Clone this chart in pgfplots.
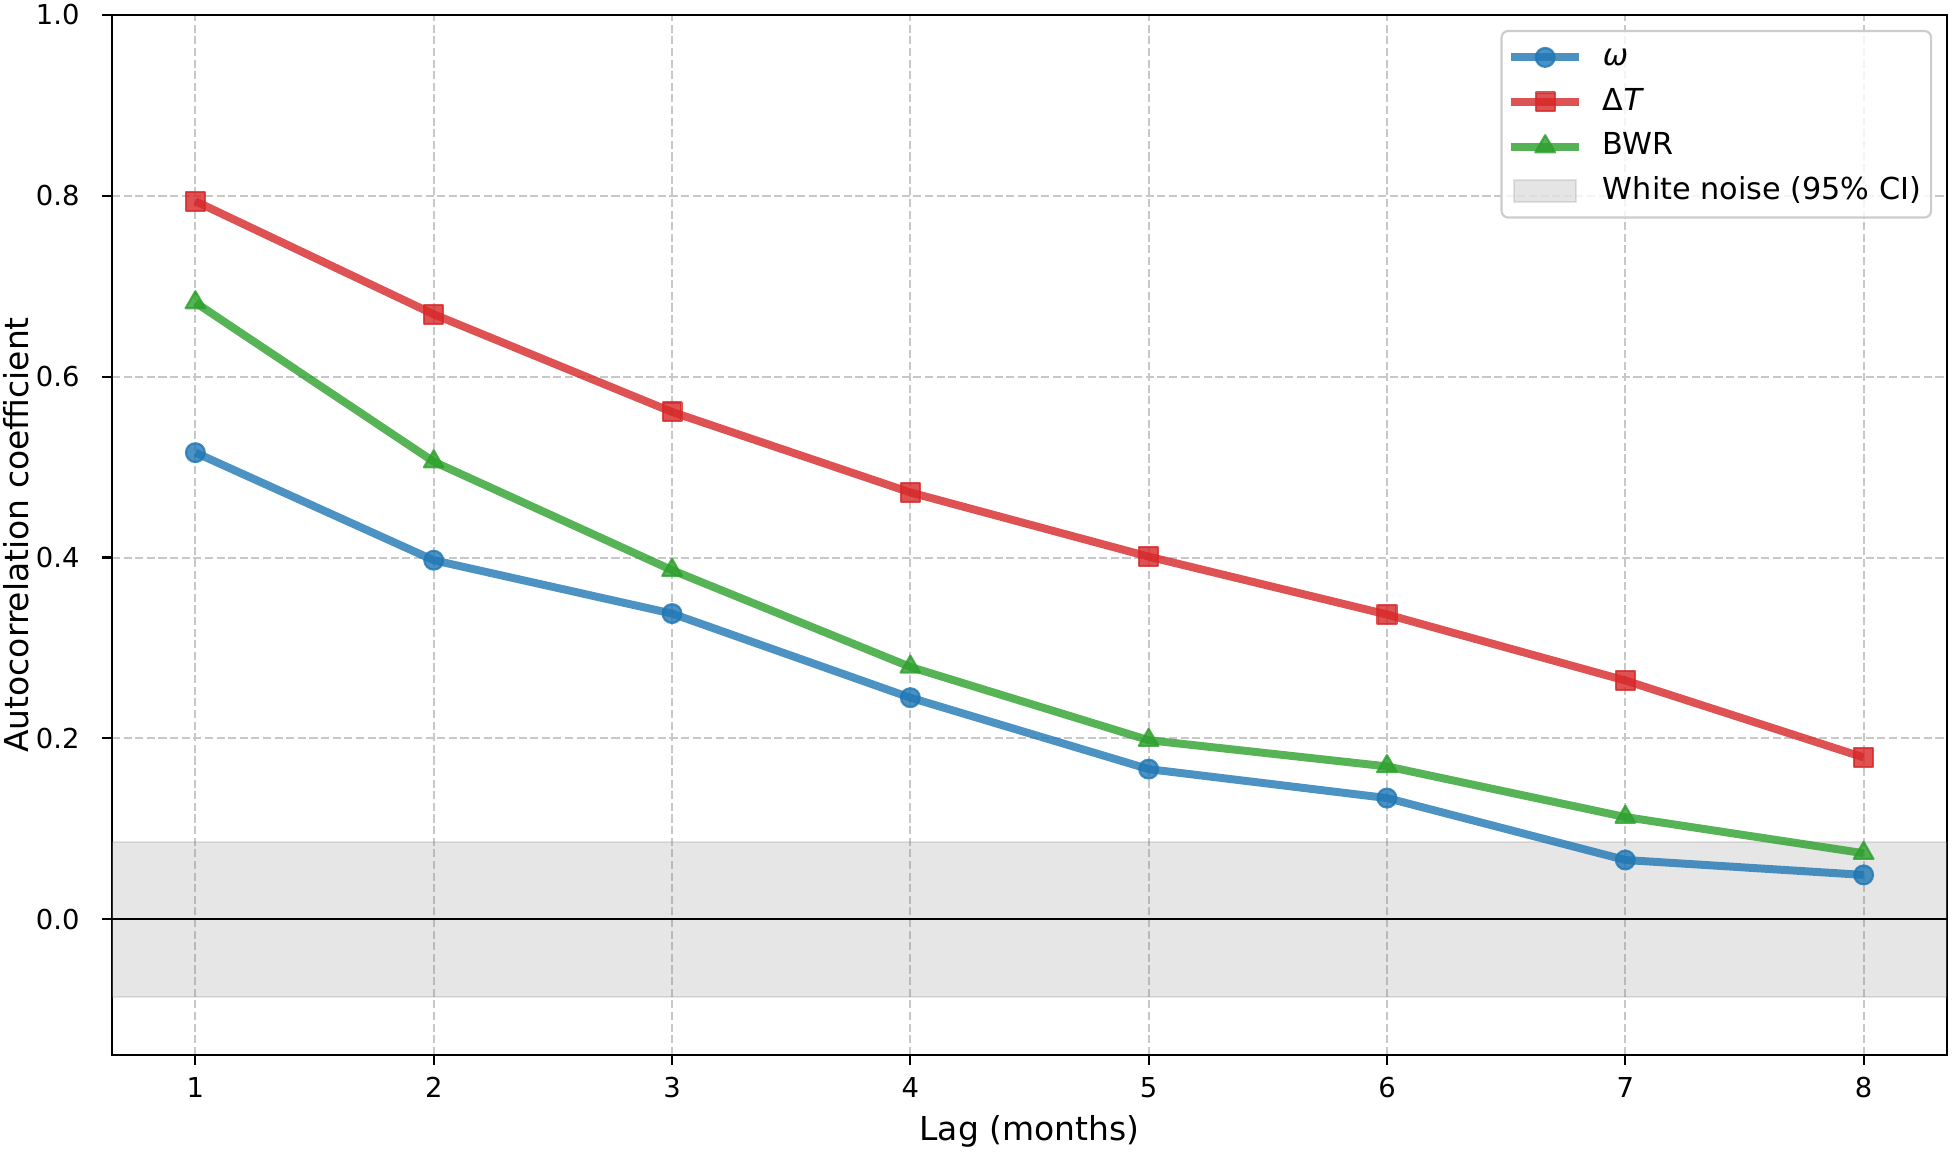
\documentclass[border=0pt]{standalone}
\usepackage{pgfplots}
\pgfplotsset{compat=1.18}
\usepackage{fontspec}
\setmainfont{DejaVu Sans}
\definecolor{tabblue}{HTML}{1F77B4}
\definecolor{tabred}{HTML}{D62728}
\definecolor{tabgreen}{HTML}{2CA02C}
\definecolor{gridc}{HTML}{C8C8C8}
\definecolor{bandc}{HTML}{808080}
\begin{document}
\begin{tikzpicture}
\begin{axis}[
  scale only axis,
  width=679.4pt, height=385pt,
  xmin=0.65, xmax=8.35, ymin=-0.15, ymax=1.0,
  xtick={1,2,3,4,5,6,7,8},
  ytick={0,0.2,0.4,0.6,0.8,1.0},
  /pgf/number format/assume math mode=true,
  tick align=outside,
  major tick length=3.7pt,
  xtick pos=left, ytick pos=left,
  tick style={black, line width=0.8pt},
  axis line style={line width=1pt},
  grid=major,
  major grid style={gridc, line width=0.75pt, dash pattern=on 3pt off 1.3pt},
  ticklabel style={font=\fontsize{10.15}{12}\selectfont},
  xticklabel style={anchor=base, inner sep=0pt, yshift=-12.0pt},
  yticklabel style={/pgf/number format/fixed, /pgf/number format/fixed zerofill, /pgf/number format/precision=1,
    anchor=east, inner sep=0pt, xshift=-8.1pt},
  xlabel={Lag (months)},
  ylabel={Autocorrelation coefficient},
  xlabel style={font=\fontsize{12.2}{14}\selectfont, at={(axis description cs:0.5,0)}, anchor=base, inner sep=0pt, yshift=-31.7pt},
  ylabel style={font=\fontsize{12.2}{14}\selectfont, at={(axis description cs:-0.0594,0.5)}, anchor=north, inner sep=0pt},
  legend cell align=left,
  legend style={at={(1,1)}, anchor=north east, xshift=-5.5pt, yshift=-5.5pt,
    draw=black!20, line width=0.8pt, rounded corners=2.5pt, fill=white, fill opacity=0.8, text opacity=1,
    font=\fontsize{11.2}{13}\selectfont, row sep=3.5pt, column sep=5.9pt,
    inner xsep=2.2pt, inner ysep=3.3pt,
    nodes={inner sep=1.5pt, text height=8pt, text depth=2pt}},
  legend image code/.code={%
    \draw[mark repeat=2,mark phase=2,#1] plot coordinates {(0pt,0pt) (12.5pt,0pt) (25pt,0pt)};},
]
% white-noise band
\addplot[forget plot, fill=bandc, fill opacity=0.2, draw=bandc, draw opacity=0.2, line width=0.8pt]
  coordinates {(0.65,-0.0857) (8.35,-0.0857) (8.35,0.0857) (0.65,0.0857)} -- cycle;
\addplot[forget plot, black, line width=0.8pt] coordinates {(0.65,0) (8.35,0)};
% omega
\addplot[tabblue, opacity=0.8, line width=2.95pt, line join=round, mark=*, mark size=3.5pt,
  mark options={solid, fill=tabblue, line width=0.8pt}]
  coordinates {(1,0.516) (2,0.397) (3,0.338) (4,0.245) (5,0.166) (6,0.134) (7,0.0655) (8,0.049)};
\addlegendentry{\textit{ω}}
% Delta T
\addplot[tabred, opacity=0.8, line width=2.95pt, line join=round, mark=square*, mark size=3.5pt,
  mark options={solid, fill=tabred, line width=0.8pt}]
  coordinates {(1,0.794) (2,0.669) (3,0.561) (4,0.472) (5,0.401) (6,0.337) (7,0.264) (8,0.179)};
\addlegendentry{Δ\textit{T}}
% BWR
\addplot[tabgreen, opacity=0.8, line width=2.95pt, line join=round, mark=triangle*, mark size=4.2pt,
  mark options={solid, fill=tabgreen, line width=0.8pt}]
  coordinates {(1,0.682) (2,0.506) (3,0.386) (4,0.279) (5,0.198) (6,0.169) (7,0.113) (8,0.073)};
\addlegendentry{BWR}
\addlegendimage{legend image code/.code={\draw[sharp corners, fill=bandc, fill opacity=0.2, draw=bandc, draw opacity=0.2, line width=0.8pt] (1pt,-4pt) rectangle (24pt,4pt);}}
\addlegendentry{White noise (95\% CI)}
\end{axis}
\pgfresetboundingbox
\path (current axis.south west) ++(-41.47pt,-35.91pt) coordinate (bbA);
\path (current axis.north east) ++(1.85pt,5.55pt) coordinate (bbB);
\useasboundingbox (bbA) rectangle (bbB);
\end{tikzpicture}
\end{document}
